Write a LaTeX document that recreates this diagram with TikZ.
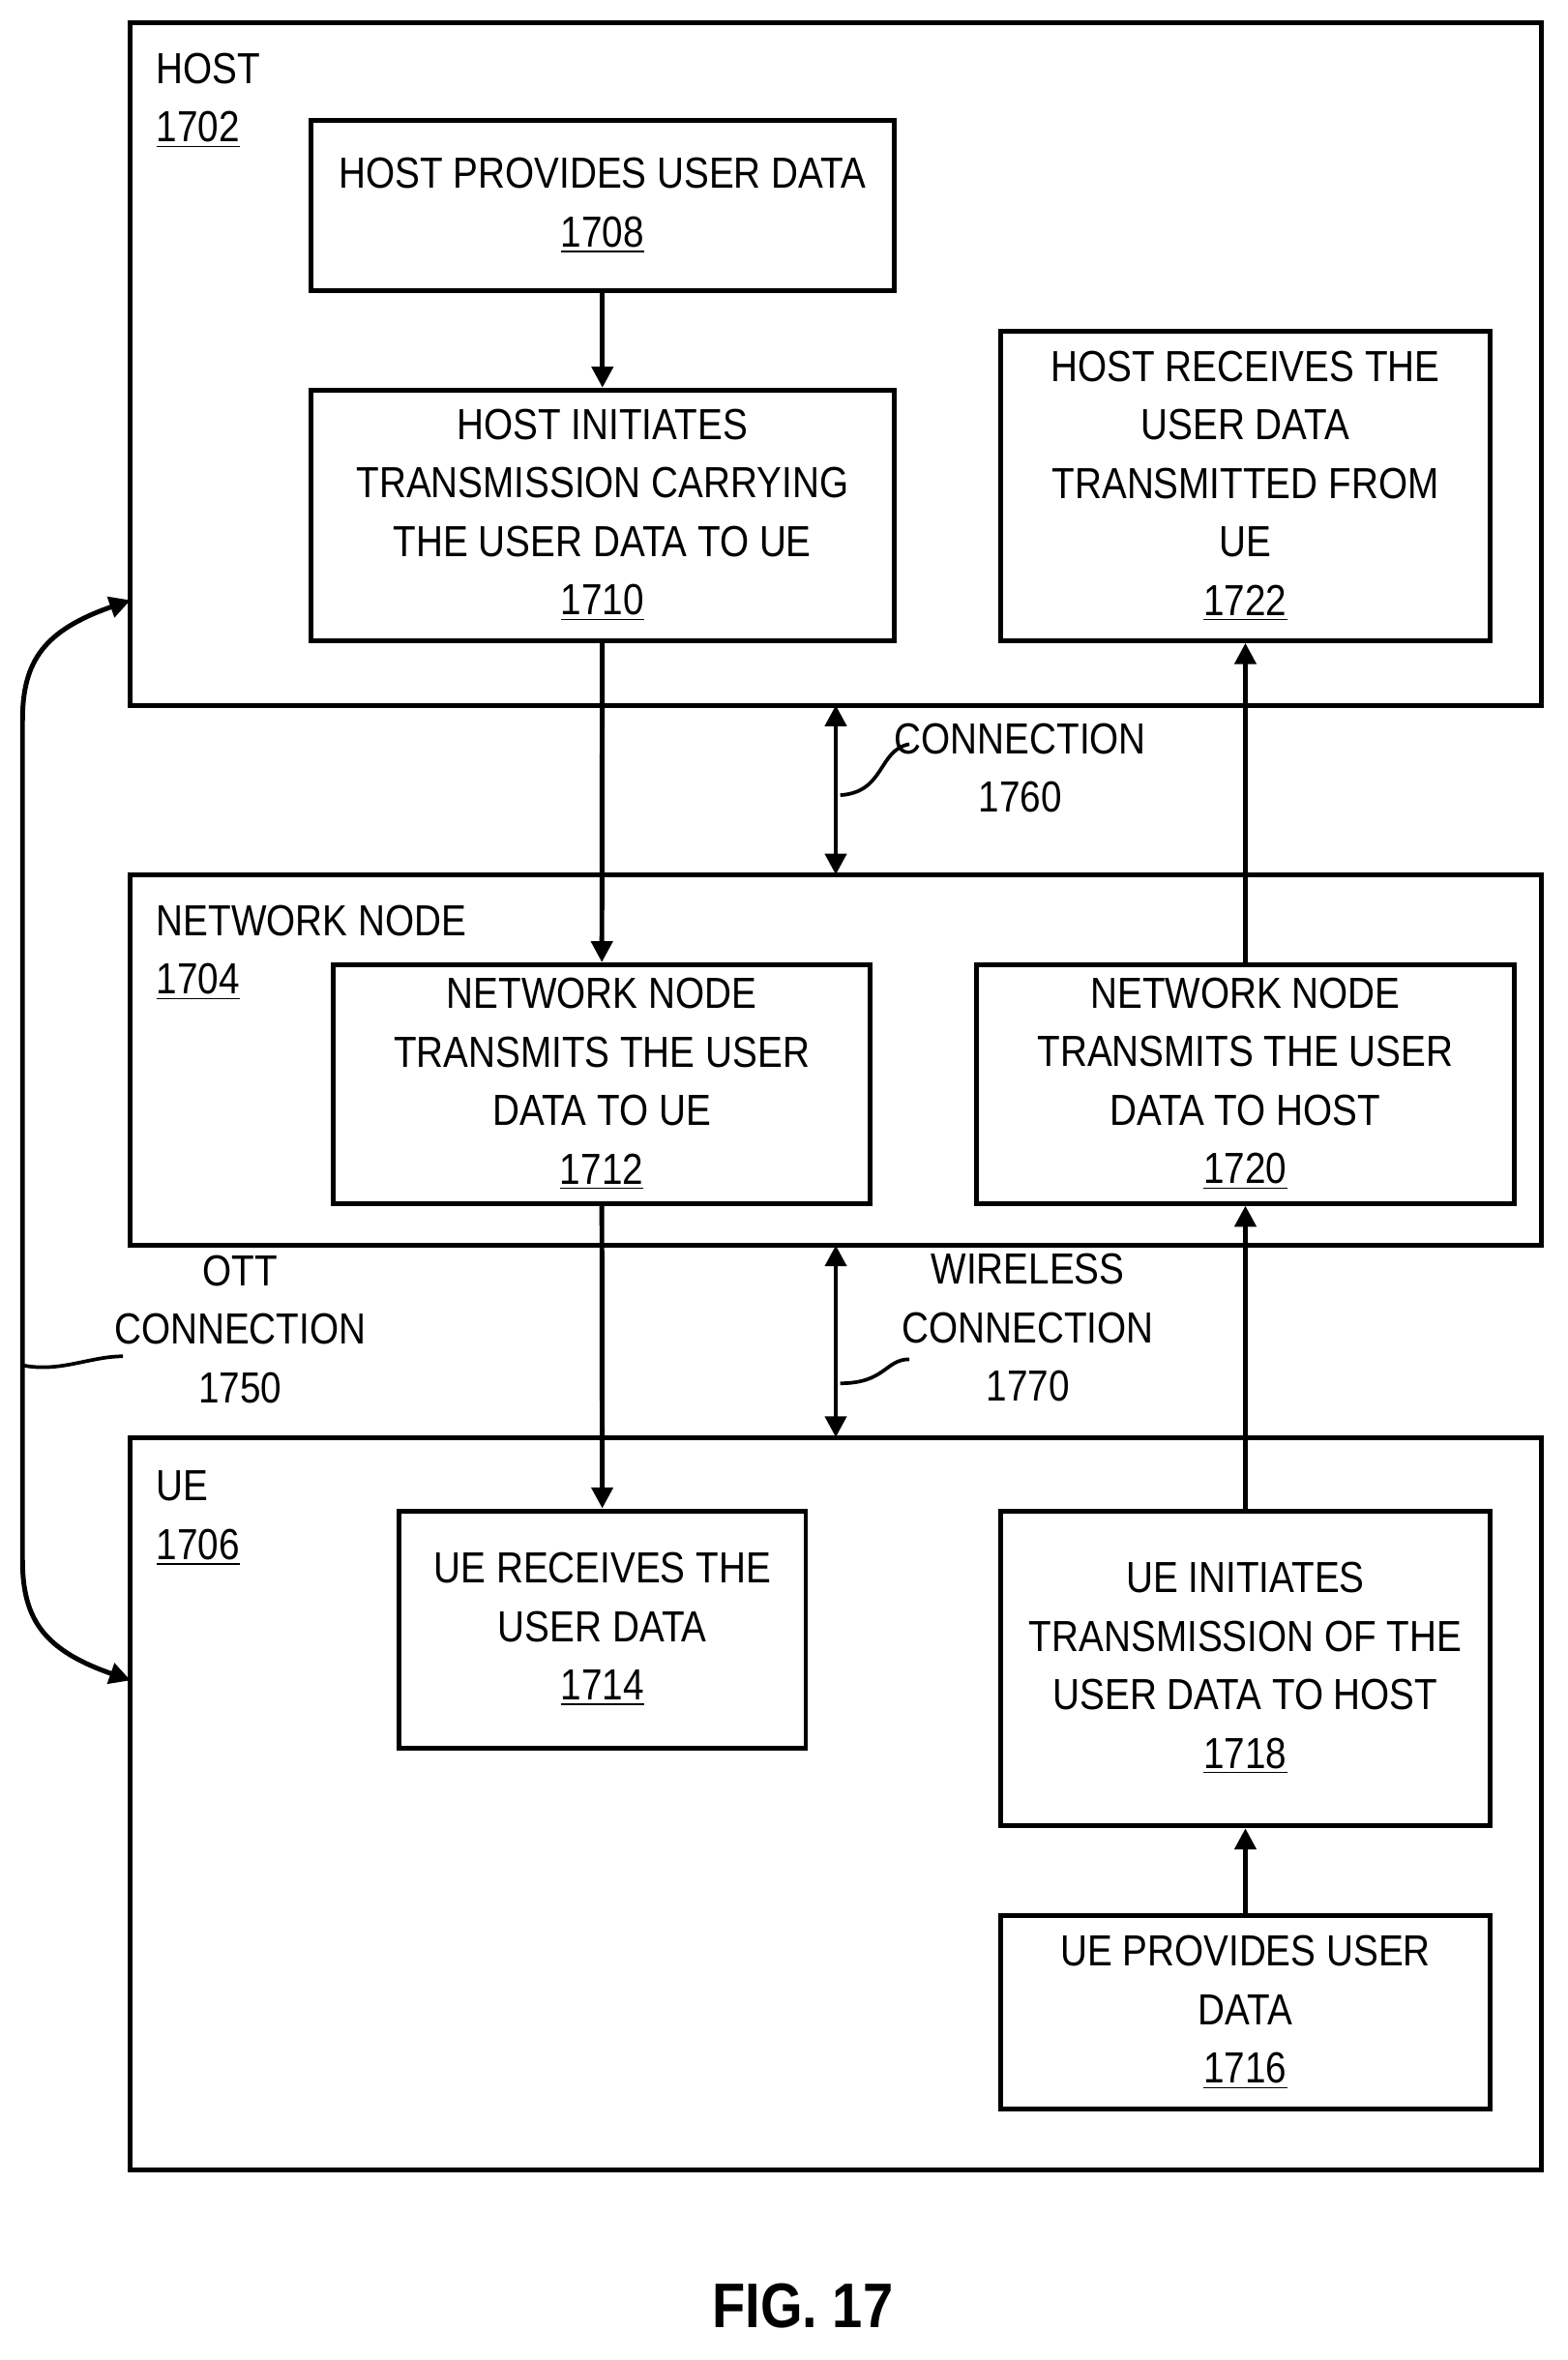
\documentclass[tikz,border=0pt]{standalone}
\usepackage{fontspec}
\setmainfont{Liberation Sans}[FakeStretch=0.86]
\usetikzlibrary{arrows.meta}
\begin{document}
\begin{tikzpicture}[x=0.5pt,y=-0.5pt,
  box/.style={draw,line width=1.6pt},
  stp/.style={box,align=center,font=\fontsize{14.5}{19.5}\selectfont,inner sep=0pt},
  lab/.style={align=center,font=\fontsize{14.5}{19.5}\selectfont,inner sep=0pt},
  arr/.style={line width=1.6pt,-{Triangle[length=7pt,width=7pt]}},
  darr/.style={line width=1.6pt,{Triangle[length=7pt,width=7pt]}-{Triangle[length=7pt,width=7pt]}},
  lead/.style={line width=1.2pt}]
\useasboundingbox (0,0) rectangle (1045,1573);
\node[box,minimum width=470pt,minimum height=227.5pt] (host) at (557,242.5) {};
\node[box,minimum width=470pt,minimum height=123.5pt] (nn) at (557,706.5) {};
\node[box,minimum width=470pt,minimum height=244pt] (ue) at (557,1202) {};
\node[lab,align=left,anchor=north west] (hl) at (104,35) {HOST\\\underline{1702}};
\node[lab,align=left,anchor=north west] (nl) at (104,603) {NETWORK NODE\\\underline{1704}};
\node[lab,align=left,anchor=north west] (ul) at (104,980) {UE\\\underline{1706}};
\node[stp,minimum width=194.5pt,minimum height=57pt] (s1708) at (401.5,137) {HOST PROVIDES USER DATA\\\underline{1708}};
\node[stp,minimum width=194.5pt,minimum height=83.5pt] (s1710) at (401.5,343.5) {HOST INITIATES\\TRANSMISSION CARRYING\\THE USER DATA TO UE\\\underline{1710}};
\node[stp,minimum width=163pt,minimum height=103pt] (s1722) at (830,324) {HOST RECEIVES THE\\USER DATA\\TRANSMITTED FROM\\UE\\\underline{1722}};
\node[stp,minimum width=179pt,minimum height=79.5pt] (s1712) at (401,722.5) {NETWORK NODE\\TRANSMITS THE USER\\DATA TO UE\\\underline{1712}};
\node[stp,minimum width=179pt,minimum height=79.5pt] (s1720) at (830,722.5) {NETWORK NODE\\TRANSMITS THE USER\\DATA TO HOST\\\underline{1720}};
\node[stp,minimum width=135.5pt,minimum height=79pt] (s1714) at (401.5,1086) {UE RECEIVES THE\\USER DATA\\\underline{1714}};
\node[stp,minimum width=163pt,minimum height=105pt] (s1718) at (830,1112) {UE INITIATES\\TRANSMISSION OF THE\\USER DATA TO HOST\\\underline{1718}};
\node[stp,minimum width=163pt,minimum height=64.5pt] (s1716) at (830,1341.5) {UE PROVIDES USER\\DATA\\\underline{1716}};
\draw[arr] (s1708) -- (s1710);
\draw[arr] (s1710) -- (s1712);
\draw[arr] (s1712) -- (s1714);
\draw[arr] (s1716) -- (s1718);
\draw[arr] (s1718) -- (s1720);
\draw[arr] (s1720) -- (s1722);
\coordinate (c1a) at (557,470); \coordinate (c1b) at (557,583);
\coordinate (c2a) at (557,830); \coordinate (c2b) at (557,958);
\draw[darr] (c1a) -- (c1b);
\draw[darr] (c2a) -- (c2b);
\node[lab] (l1760) at (680,512) {CONNECTION\\1760};
\node[lab] (l1770) at (685,885) {WIRELESS\\CONNECTION\\1770};
\node[lab] (l1750) at (160,886) {OTT\\CONNECTION\\1750};
\coordinate (e1) at (560,530); \coordinate (f1) at (606,496);
\draw[lead] (e1) .. controls (590,528) and (585,500) .. (f1);
\coordinate (e2) at (560,922); \coordinate (f2) at (606,906);
\draw[lead] (e2) .. controls (590,922) and (590,906) .. (f2);
\coordinate (o1) at (87,400); \coordinate (o2) at (87,1120);
\draw[darr] (o1) .. controls (30,420) and (15,440) .. (15,480) -- (15,1040) .. controls (15,1080) and (30,1100) .. (o2);
\coordinate (e3) at (15,910); \coordinate (f3) at (82,904);
\draw[lead] (e3) .. controls (40,915) and (60,904) .. (f3);
\node[font=\fontsize{21}{24}\selectfont\bfseries,inner sep=0pt] (fig) at (535,1537) {FIG. 17};
\end{tikzpicture}
\end{document}
